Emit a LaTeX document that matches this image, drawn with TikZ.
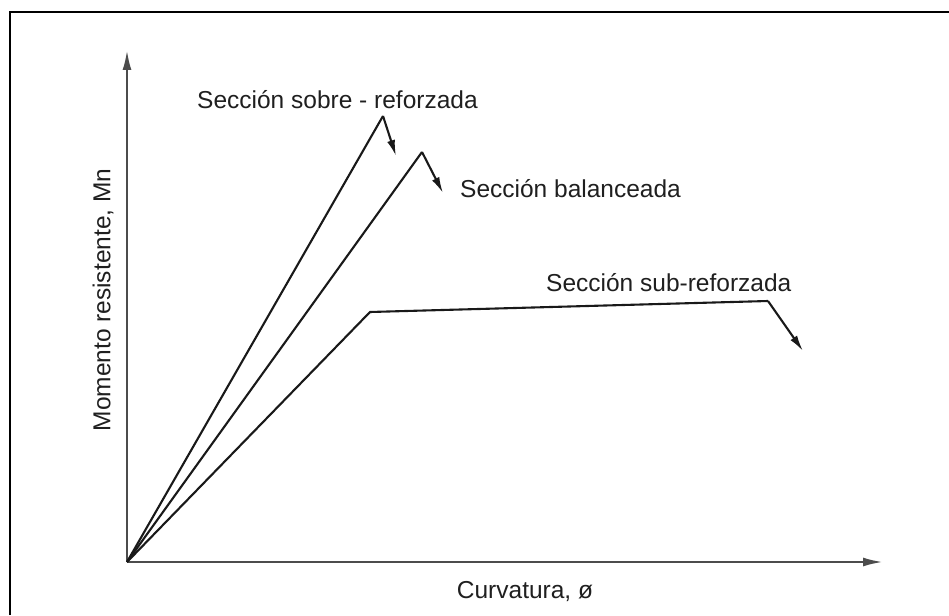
\documentclass[tikz,border=0pt]{standalone}
\usepackage{fontspec}
\setmainfont{Liberation Sans}
\usetikzlibrary{arrows.meta}
\begin{document}
\begin{tikzpicture}[x=1pt,y=-1pt,
  curve/.style={line width=2.1pt,black!90},
  axisline/.style={line width=2.4pt,black!70,-{Latex[length=20pt,width=9pt]}},
  dropline/.style={line width=2.1pt,black!90,-{Latex[length=16pt,width=8pt]}},
  lbl/.style={font=\fontsize{24.5}{29}\selectfont,text=black!88,inner sep=0pt},
  framel/.style={line width=2.5pt,black}]
\useasboundingbox (0,0) rectangle (949,615);
% frame (top and left)
\draw[framel] (10,615) -- (10,12) -- (949,12);
% points
\coordinate (O) at (127,562);
\coordinate (ytip) at (127,50);
\coordinate (xtip) at (883,562);
\coordinate (p1) at (383,116);
\coordinate (e1) at (396,156);
\coordinate (p2) at (422,152);
\coordinate (e2) at (443,193);
\coordinate (k3) at (370,312);
\coordinate (p3) at (768,301);
\coordinate (e3) at (803,351);
% axes
\draw[axisline] (O) -- (ytip);
\draw[axisline] (O) -- (xtip);
% curves
\draw[curve] (O) -- (p1);
\draw[dropline] (p1) -- (e1);
\draw[curve] (O) -- (p2);
\draw[dropline] (p2) -- (e2);
\draw[curve] (O) -- (k3) -- (p3);
\draw[dropline] (p3) -- (e3);
% labels
\node[lbl,anchor=base west] (l1) at (197,108) {Sección sobre - reforzada};
\node[lbl,anchor=base west] (l2) at (460,197) {Sección balanceada};
\node[lbl,anchor=base west] (l3) at (546,291) {Sección sub-reforzada};
\node[lbl,anchor=base] (lx) at (525,598) {Curvatura, ø};
\node[lbl,rotate=90] (ly) at (103,300) {Momento resistente, Mn};
\end{tikzpicture}
\end{document}
